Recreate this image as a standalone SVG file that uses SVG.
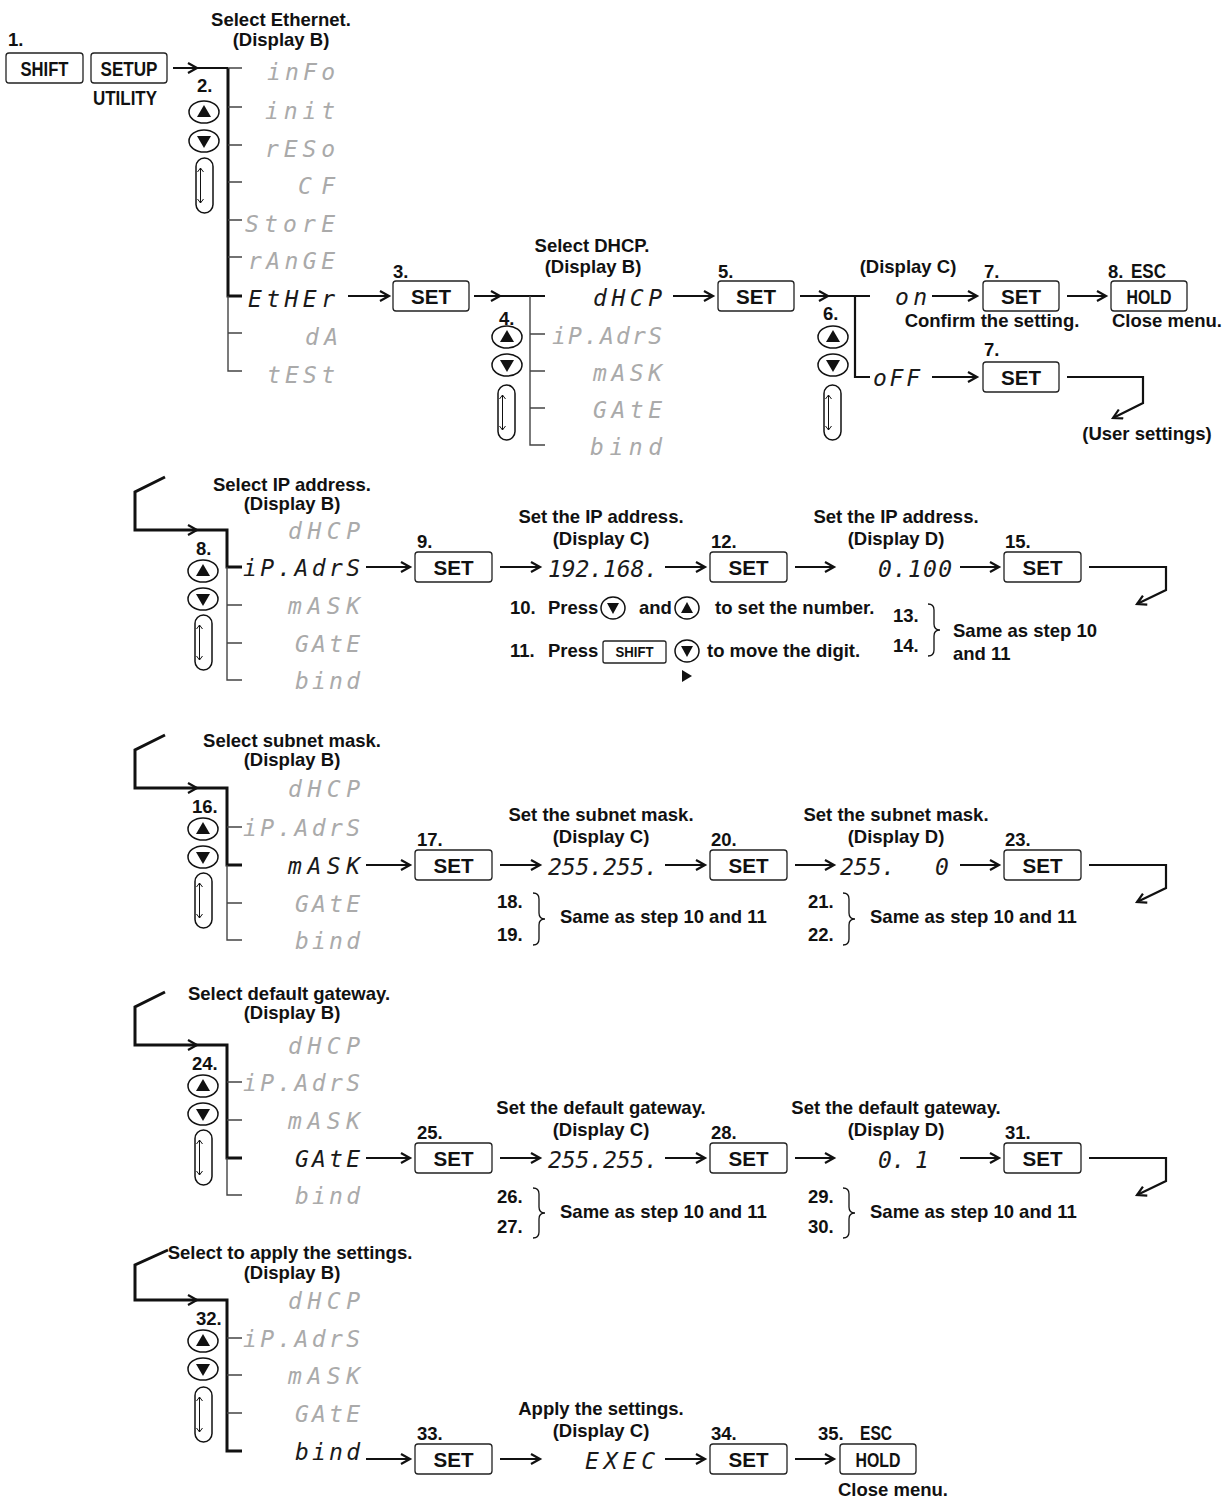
<svg xmlns="http://www.w3.org/2000/svg" xmlns:xlink="http://www.w3.org/1999/xlink" width="1231" height="1499" viewBox="0 0 1231 1499">
<style>
.t{font-family:"Liberation Sans",Arial,sans-serif;font-weight:bold;font-size:18.5px;fill:#111}
.c{text-anchor:middle}
.k{font-family:"Liberation Sans Narrow","Liberation Sans",Arial,sans-serif;font-weight:bold;font-size:21px;fill:#111}
.ks{font-family:"Liberation Sans Narrow","Liberation Sans",Arial,sans-serif;font-weight:bold;font-size:15px;fill:#111}
.kb{fill:#fff;stroke:#222;stroke-width:1.3}
.seg{font-family:"DejaVu Sans Mono",monospace;font-style:italic;font-size:23px;fill:#aaa}
.on{fill:#1a1a1a}
.ln{fill:none;stroke:#111;stroke-width:2.2}
.thick{fill:none;stroke:#111;stroke-width:3}
.thin{fill:none;stroke:#444;stroke-width:1.4}
.ar{fill:none;stroke:#111;stroke-width:2.2;marker-end:url(#ah)}
.btn{fill:#fff;stroke:#111;stroke-width:1.5}
.br{fill:none;stroke:#111;stroke-width:1.3}
</style>
<defs>
<marker id="ah" markerUnits="userSpaceOnUse" markerWidth="14" markerHeight="14" refX="10" refY="6" orient="auto"><path d="M1,1 L10,6 L1,11" fill="none" stroke="#111" stroke-width="2.2"/></marker>
<g id="up"><ellipse rx="15" ry="11" class="btn"/><path d="M-7,5 L7,5 L0,-7Z" fill="#111"/></g>
<g id="dn"><ellipse rx="15" ry="11" class="btn"/><path d="M-7,-5 L7,-5 L0,7Z" fill="#111"/></g>
<g id="sup"><ellipse rx="12" ry="11" class="btn"/><path d="M-6,5 L6,5 L0,-6Z" fill="#111"/></g>
<g id="sdn"><ellipse rx="12" ry="11" class="btn"/><path d="M-6,-5 L6,-5 L0,6Z" fill="#111"/></g>
<g id="ov"><rect x="-8.5" y="0" width="17" height="55" rx="8.5" class="btn" stroke-width="1.3"/><path d="M-4,10 V45 M-7,14 L-4,10 L-1,14 M-7,41 L-4,45 L-1,41" fill="none" stroke="#111" stroke-width="1"/></g>
</defs>
<rect width="1231" height="1499" fill="#fff"/>

<g id="connectors">
<!-- row 1 -->
<path class="ln" d="M173,68 H228"/><path class="ln" d="M188,63 L197,68 L188,73"/>
<path class="thick" d="M228,68 V296 H242"/>
<path class="thin" d="M228,68 H242 M228,107 H242 M228,145 H242 M228,182 H242 M228,220 H242 M228,257 H242 M228,296 V371 H242 M228,333 H242"/>
<path class="ar" d="M348,296 H389"/>
<path class="ln" d="M474,296 H545"/><path class="ln" d="M491,291 L500,296 L491,301"/>
<path class="thin" d="M530,296 V445 H545 M530,334 H545 M530,371 H545 M530,408 H545"/>
<path class="ar" d="M673,296 H713"/>
<path class="ln" d="M800,296 H870"/><path class="ln" d="M819,291 L828,296 L819,301"/>
<path class="ln" d="M855,296 V377 H870"/>
<path class="ar" d="M932,296 H977"/>
<path class="ar" d="M1067,296 H1106"/>
<path class="ar" d="M932,377 H977"/>
<path class="ar" d="M1067,377 H1143 V403 L1113,418"/>
<!-- row 2 -->
<path class="thick" d="M165,477 L135,492 V530 H227 V567 H242"/><path class="ln" d="M188,525 L197,530 L188,535"/>
<path class="thin" d="M227,567 V680 H242 M227,605 H242 M227,643 H242"/>
<path class="ar" d="M366,567 H410"/>
<path class="ar" d="M500,567 H540"/>
<path class="ar" d="M665,567 H705"/>
<path class="ar" d="M795,567 H834"/>
<path class="ar" d="M960,567 H999"/>
<path class="ar" d="M1089,567 H1166 V590 L1137,604"/>
<!-- row 3 -->
<path class="thick" d="M165,735 L135,750 V788 H227 V865 H242"/><path class="ln" d="M188,783 L197,788 L188,793"/>
<path class="thin" d="M227,865 V940 H242 M227,827 H242 M227,903 H242"/>
<path class="ar" d="M366,865 H410"/>
<path class="ar" d="M500,865 H540"/>
<path class="ar" d="M665,865 H705"/>
<path class="ar" d="M795,865 H834"/>
<path class="ar" d="M960,865 H999"/>
<path class="ar" d="M1089,865 H1166 V888 L1137,902"/>
<!-- row 4 -->
<path class="thick" d="M165,992 L135,1007 V1045 H227 V1158 H242"/><path class="ln" d="M188,1040 L197,1045 L188,1050"/>
<path class="thin" d="M227,1158 V1195 H242 M227,1082 H242 M227,1120 H242"/>
<path class="ar" d="M366,1158 H410"/>
<path class="ar" d="M500,1158 H540"/>
<path class="ar" d="M665,1158 H705"/>
<path class="ar" d="M795,1158 H834"/>
<path class="ar" d="M960,1158 H999"/>
<path class="ar" d="M1089,1158 H1166 V1181 L1137,1195"/>
<!-- row 5 -->
<path class="thick" d="M168,1250 L135,1265 V1300 H227 V1451 H242"/><path class="ln" d="M188,1295 L197,1300 L188,1305"/>
<path class="thin" d="M227,1338 H242 M227,1375 H242 M227,1413 H242"/>
<path class="ar" d="M366,1459 H410"/>
<path class="ar" d="M500,1459 H540"/>
<path class="ar" d="M665,1459 H705"/>
<path class="ar" d="M795,1459 H834"/>
</g>

<!-- ROW 1 -->
<g id="step1">
<text class="t" x="8" y="46">1.</text>
<rect class="kb" x="6" y="53" width="77" height="30" rx="3"/>
<text class="k c" x="44.5" y="76" textLength="48" lengthAdjust="spacingAndGlyphs">SHIFT</text>
<rect class="kb" x="91" y="53" width="76" height="30" rx="3"/>
<text class="k c" x="129" y="76" textLength="57" lengthAdjust="spacingAndGlyphs">SETUP</text>
<text class="k c" x="125" y="105" textLength="64" lengthAdjust="spacingAndGlyphs">UTILITY</text>
</g>
<g id="menu-utility">
<text class="t c" x="281" y="26">Select Ethernet.</text>
<text class="t c" x="281" y="46">(Display B)</text>
<text class="seg" x="267" y="80" textLength="68" lengthAdjust="spacing">inFo</text>
<text class="seg" x="265" y="119" textLength="70" lengthAdjust="spacing">init</text>
<text class="seg" x="265" y="157" textLength="70" lengthAdjust="spacing">rESo</text>
<text class="seg" x="298" y="194" textLength="37" lengthAdjust="spacing">CF</text>
<text class="seg" x="245" y="232" textLength="90" lengthAdjust="spacing">StorE</text>
<text class="seg" x="248" y="269" textLength="87" lengthAdjust="spacing">rAnGE</text>
<text class="seg on" x="248" y="307" textLength="87" lengthAdjust="spacing">EtHEr</text>
<text class="seg" x="305" y="345" textLength="33" lengthAdjust="spacing">dA</text>
<text class="seg" x="267" y="383" textLength="68" lengthAdjust="spacing">tESt</text>
</g>
<g id="step2">
<text class="t" x="197" y="92">2.</text>
<use href="#up" x="204" y="112"/>
<use href="#dn" x="204" y="141"/>
<use href="#ov" x="204.5" y="158"/>
</g>
<g id="step3">
<text class="t" x="393" y="278">3.</text>
<rect class="kb" x="393" y="281" width="76" height="30" rx="3"/>
<text class="k c" x="431" y="304" textLength="40" lengthAdjust="spacingAndGlyphs">SET</text>
</g>
<g id="menu-ether">
<text class="t c" x="592" y="252">Select DHCP.</text>
<text class="t c" x="593" y="273">(Display B)</text>
<text class="seg on" x="593" y="306" textLength="69" lengthAdjust="spacing">dHCP</text>
<text class="seg" x="552" y="344" textLength="110" lengthAdjust="spacing">iP.AdrS</text>
<text class="seg" x="593" y="381" textLength="69" lengthAdjust="spacing">mASK</text>
<text class="seg" x="593" y="418" textLength="69" lengthAdjust="spacing">GAtE</text>
<text class="seg" x="590" y="455" textLength="72" lengthAdjust="spacing">bind</text>
</g>
<g id="step4">
<text class="t" x="499" y="325">4.</text>
<use href="#up" x="507" y="337"/>
<use href="#dn" x="507" y="365"/>
<use href="#ov" x="506.5" y="385"/>
</g>
<g id="step5">
<text class="t" x="718" y="278">5.</text>
<rect class="kb" x="718" y="281" width="76" height="30" rx="3"/>
<text class="k c" x="756" y="304" textLength="40" lengthAdjust="spacingAndGlyphs">SET</text>
</g>
<g id="menu-dhcp">
<text class="t c" x="908" y="273">(Display C)</text>
<text class="seg on" x="895" y="305" textLength="32" lengthAdjust="spacing">on</text>
<text class="seg on" x="873" y="386" textLength="47" lengthAdjust="spacing">oFF</text>
</g>
<g id="step6">
<text class="t" x="823" y="320">6.</text>
<use href="#up" x="833" y="337"/>
<use href="#dn" x="833" y="365"/>
<use href="#ov" x="832.5" y="385"/>
</g>
<g id="step7-on">
<text class="t" x="984" y="278">7.</text>
<rect class="kb" x="983" y="281" width="76" height="30" rx="3"/>
<text class="k c" x="1021" y="304" textLength="40" lengthAdjust="spacingAndGlyphs">SET</text>
<text class="t c" x="992" y="327">Confirm the setting.</text>
</g>
<g id="step8">
<text class="t" x="1108" y="278">8.</text>
<text class="k" x="1131" y="278" textLength="35" lengthAdjust="spacingAndGlyphs">ESC</text>
<rect class="kb" x="1111" y="281" width="76" height="30" rx="3"/>
<text class="k c" x="1149" y="304" textLength="45" lengthAdjust="spacingAndGlyphs">HOLD</text>
<text class="t c" x="1167" y="327">Close menu.</text>
</g>
<g id="step7-off">
<text class="t" x="984" y="356">7.</text>
<rect class="kb" x="983" y="362" width="76" height="30" rx="3"/>
<text class="k c" x="1021" y="385" textLength="40" lengthAdjust="spacingAndGlyphs">SET</text>
<text class="t c" x="1147" y="440">(User settings)</text>
</g>

<!-- ROW 2 -->
<g id="menu-ip">
<text class="t c" x="292" y="491">Select IP address.</text>
<text class="t c" x="292" y="510">(Display B)</text>
<text class="seg" x="288" y="539" textLength="72" lengthAdjust="spacing">dHCP</text>
<text class="seg on" x="243" y="576" textLength="117" lengthAdjust="spacing">iP.AdrS</text>
<text class="seg" x="288" y="614" textLength="72" lengthAdjust="spacing">mASK</text>
<text class="seg" x="295" y="652" textLength="65" lengthAdjust="spacing">GAtE</text>
<text class="seg" x="295" y="689" textLength="65" lengthAdjust="spacing">bind</text>
</g>
<g id="step8b">
<text class="t" x="196" y="555">8.</text>
<use href="#up" x="203" y="571"/>
<use href="#dn" x="203" y="599"/>
<use href="#ov" x="203.5" y="615"/>
</g>
<g id="step9">
<text class="t" x="417" y="548">9.</text>
<rect class="kb" x="415" y="552" width="77" height="30" rx="3"/>
<text class="k c" x="453.5" y="575" textLength="40" lengthAdjust="spacingAndGlyphs">SET</text>
</g>
<g id="disp-ip-c">
<text class="t c" x="601" y="523">Set the IP address.</text>
<text class="t c" x="601" y="545">(Display C)</text>
<text class="seg on" x="548" y="577" textLength="110" lengthAdjust="spacing">192.168.</text>
</g>
<g id="step12">
<text class="t" x="711" y="548">12.</text>
<rect class="kb" x="710" y="552" width="77" height="30" rx="3"/>
<text class="k c" x="748.5" y="575" textLength="40" lengthAdjust="spacingAndGlyphs">SET</text>
</g>
<g id="disp-ip-d">
<text class="t c" x="896" y="523">Set the IP address.</text>
<text class="t c" x="896" y="545">(Display D)</text>
<text class="seg on" x="878" y="577" textLength="74" lengthAdjust="spacing">0.100</text>
</g>
<g id="step15">
<text class="t" x="1005" y="548">15.</text>
<rect class="kb" x="1004" y="552" width="77" height="30" rx="3"/>
<text class="k c" x="1042.5" y="575" textLength="40" lengthAdjust="spacingAndGlyphs">SET</text>
</g>
<g id="step10-11">
<text class="t" x="510" y="614">10.</text>
<text class="t" x="548" y="614">Press</text>
<use href="#sdn" x="613" y="608"/>
<text class="t" x="639" y="614">and</text>
<use href="#sup" x="687" y="608"/>
<text class="t" x="715" y="614">to set the number.</text>
<text class="t" x="510" y="657">11.</text>
<text class="t" x="548" y="657">Press</text>
<rect class="kb" x="603" y="641" width="63" height="22" rx="2"/>
<text class="ks c" x="634.5" y="657" textLength="38" lengthAdjust="spacingAndGlyphs">SHIFT</text>
<use href="#sdn" x="687" y="651"/>
<text class="t" x="707" y="657">to move the digit.</text>
<path d="M682,670 L692,676 L682,682Z" fill="#111"/>
</g>
<g id="step13-14">
<text class="t" x="893" y="622">13.</text>
<text class="t" x="893" y="652">14.</text>
<path class="br" d="M928,604 q6,0 6,6 V624 q0,6 6,6 q-6,0 -6,6 V650 q0,6 -6,6"/>
<text class="t" x="953" y="637">Same as step 10</text>
<text class="t" x="953" y="660">and 11</text>
</g>

<!-- ROW 3 -->
<g id="menu-mask">
<text class="t c" x="292" y="747">Select subnet mask.</text>
<text class="t c" x="292" y="766">(Display B)</text>
<text class="seg" x="288" y="797" textLength="72" lengthAdjust="spacing">dHCP</text>
<text class="seg" x="243" y="836" textLength="117" lengthAdjust="spacing">iP.AdrS</text>
<text class="seg on" x="288" y="874" textLength="72" lengthAdjust="spacing">mASK</text>
<text class="seg" x="295" y="912" textLength="65" lengthAdjust="spacing">GAtE</text>
<text class="seg" x="295" y="949" textLength="65" lengthAdjust="spacing">bind</text>
</g>
<g id="step16">
<text class="t" x="192" y="813">16.</text>
<use href="#up" x="203" y="829"/>
<use href="#dn" x="203" y="857"/>
<use href="#ov" x="203.5" y="873"/>
</g>
<g id="step17">
<text class="t" x="417" y="846">17.</text>
<rect class="kb" x="415" y="850" width="77" height="30" rx="3"/>
<text class="k c" x="453.5" y="873" textLength="40" lengthAdjust="spacingAndGlyphs">SET</text>
</g>
<g id="disp-mask-c">
<text class="t c" x="601" y="821">Set the subnet mask.</text>
<text class="t c" x="601" y="843">(Display C)</text>
<text class="seg on" x="548" y="875" textLength="110" lengthAdjust="spacing">255.255.</text>
</g>
<g id="step20">
<text class="t" x="711" y="846">20.</text>
<rect class="kb" x="710" y="850" width="77" height="30" rx="3"/>
<text class="k c" x="748.5" y="873" textLength="40" lengthAdjust="spacingAndGlyphs">SET</text>
</g>
<g id="disp-mask-d">
<text class="t c" x="896" y="821">Set the subnet mask.</text>
<text class="t c" x="896" y="843">(Display D)</text>
<text class="seg on" y="875"><tspan x="840">255.</tspan><tspan x="935">0</tspan></text>
</g>
<g id="step23">
<text class="t" x="1005" y="846">23.</text>
<rect class="kb" x="1004" y="850" width="77" height="30" rx="3"/>
<text class="k c" x="1042.5" y="873" textLength="40" lengthAdjust="spacingAndGlyphs">SET</text>
</g>
<g id="step18-19">
<text class="t" x="497" y="908">18.</text>
<text class="t" x="497" y="941">19.</text>
<path class="br" d="M533,893 q6,0 6,6 V913 q0,6 6,6 q-6,0 -6,6 V939 q0,6 -6,6"/>
<text class="t" x="560" y="923">Same as step 10 and 11</text>
</g>
<g id="step21-22">
<text class="t" x="808" y="908">21.</text>
<text class="t" x="808" y="941">22.</text>
<path class="br" d="M843,893 q6,0 6,6 V913 q0,6 6,6 q-6,0 -6,6 V939 q0,6 -6,6"/>
<text class="t" x="870" y="923">Same as step 10 and 11</text>
</g>

<!-- ROW 4 -->
<g id="menu-gate">
<text class="t c" x="289" y="1000">Select default gateway.</text>
<text class="t c" x="292" y="1019">(Display B)</text>
<text class="seg" x="288" y="1054" textLength="72" lengthAdjust="spacing">dHCP</text>
<text class="seg" x="243" y="1091" textLength="117" lengthAdjust="spacing">iP.AdrS</text>
<text class="seg" x="288" y="1129" textLength="72" lengthAdjust="spacing">mASK</text>
<text class="seg on" x="295" y="1167" textLength="65" lengthAdjust="spacing">GAtE</text>
<text class="seg" x="295" y="1204" textLength="65" lengthAdjust="spacing">bind</text>
</g>
<g id="step24">
<text class="t" x="192" y="1070">24.</text>
<use href="#up" x="203" y="1086"/>
<use href="#dn" x="203" y="1114"/>
<use href="#ov" x="203.5" y="1130"/>
</g>
<g id="step25">
<text class="t" x="417" y="1139">25.</text>
<rect class="kb" x="415" y="1143" width="77" height="30" rx="3"/>
<text class="k c" x="453.5" y="1166" textLength="40" lengthAdjust="spacingAndGlyphs">SET</text>
</g>
<g id="disp-gate-c">
<text class="t c" x="601" y="1114">Set the default gateway.</text>
<text class="t c" x="601" y="1136">(Display C)</text>
<text class="seg on" x="548" y="1168" textLength="110" lengthAdjust="spacing">255.255.</text>
</g>
<g id="step28">
<text class="t" x="711" y="1139">28.</text>
<rect class="kb" x="710" y="1143" width="77" height="30" rx="3"/>
<text class="k c" x="748.5" y="1166" textLength="40" lengthAdjust="spacingAndGlyphs">SET</text>
</g>
<g id="disp-gate-d">
<text class="t c" x="896" y="1114">Set the default gateway.</text>
<text class="t c" x="896" y="1136">(Display D)</text>
<text class="seg on" y="1168"><tspan x="878">0.</tspan><tspan x="915">1</tspan></text>
</g>
<g id="step31">
<text class="t" x="1005" y="1139">31.</text>
<rect class="kb" x="1004" y="1143" width="77" height="30" rx="3"/>
<text class="k c" x="1042.5" y="1166" textLength="40" lengthAdjust="spacingAndGlyphs">SET</text>
</g>
<g id="step26-27">
<text class="t" x="497" y="1203">26.</text>
<text class="t" x="497" y="1233">27.</text>
<path class="br" d="M533,1188 q6,0 6,6 V1207 q0,6 6,6 q-6,0 -6,6 V1232 q0,6 -6,6"/>
<text class="t" x="560" y="1218">Same as step 10 and 11</text>
</g>
<g id="step29-30">
<text class="t" x="808" y="1203">29.</text>
<text class="t" x="808" y="1233">30.</text>
<path class="br" d="M843,1188 q6,0 6,6 V1207 q0,6 6,6 q-6,0 -6,6 V1232 q0,6 -6,6"/>
<text class="t" x="870" y="1218">Same as step 10 and 11</text>
</g>

<!-- ROW 5 -->
<g id="menu-bind">
<text class="t c" x="290" y="1259">Select to apply the settings.</text>
<text class="t c" x="292" y="1279">(Display B)</text>
<text class="seg" x="288" y="1309" textLength="72" lengthAdjust="spacing">dHCP</text>
<text class="seg" x="243" y="1347" textLength="117" lengthAdjust="spacing">iP.AdrS</text>
<text class="seg" x="288" y="1384" textLength="72" lengthAdjust="spacing">mASK</text>
<text class="seg" x="295" y="1422" textLength="65" lengthAdjust="spacing">GAtE</text>
<text class="seg on" x="295" y="1460" textLength="65" lengthAdjust="spacing">bind</text>
</g>
<g id="step32">
<text class="t" x="196" y="1325">32.</text>
<use href="#up" x="203" y="1341"/>
<use href="#dn" x="203" y="1369"/>
<use href="#ov" x="203.5" y="1387"/>
</g>
<g id="step33">
<text class="t" x="417" y="1440">33.</text>
<rect class="kb" x="415" y="1444" width="77" height="30" rx="3"/>
<text class="k c" x="453.5" y="1467" textLength="40" lengthAdjust="spacingAndGlyphs">SET</text>
</g>
<g id="disp-exec">
<text class="t c" x="601" y="1415">Apply the settings.</text>
<text class="t c" x="601" y="1437">(Display C)</text>
<text class="seg on" x="585" y="1469" textLength="70" lengthAdjust="spacing">EXEC</text>
</g>
<g id="step34">
<text class="t" x="711" y="1440">34.</text>
<rect class="kb" x="710" y="1444" width="77" height="30" rx="3"/>
<text class="k c" x="748.5" y="1467" textLength="40" lengthAdjust="spacingAndGlyphs">SET</text>
</g>
<g id="step35">
<text class="t" x="818" y="1440">35.</text>
<text class="k" x="860" y="1440" textLength="32" lengthAdjust="spacingAndGlyphs">ESC</text>
<rect class="kb" x="840" y="1444" width="76" height="30" rx="3"/>
<text class="k c" x="878" y="1467" textLength="45" lengthAdjust="spacingAndGlyphs">HOLD</text>
<text class="t c" x="893" y="1496">Close menu.</text>
</g>
</svg>
